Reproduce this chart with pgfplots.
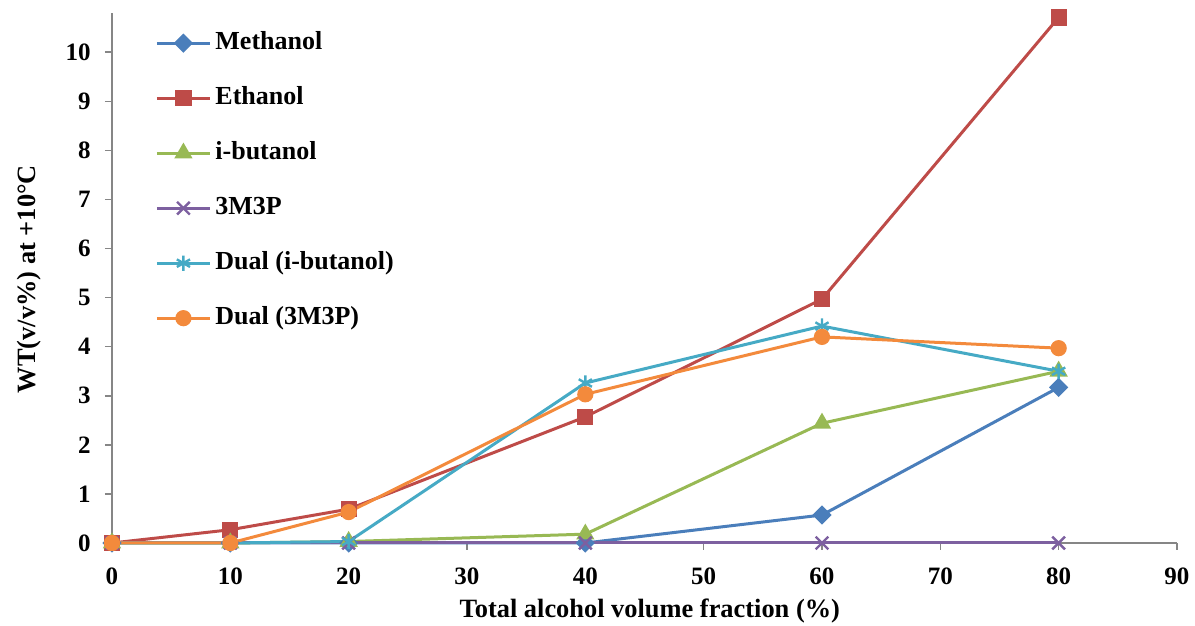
\documentclass[border=0pt]{standalone}
\usepackage{fontspec}
\setmainfont{Liberation Serif}
\usepackage{pgfplots}
\pgfplotsset{compat=1.18}

\definecolor{cMeth}{HTML}{4A7EBB}
\definecolor{cEth}{HTML}{BE4B48}
\definecolor{cIbu}{HTML}{98B954}
\definecolor{cMMP}{HTML}{7D60A0}
\definecolor{cDi}{HTML}{46AAC5}
\definecolor{cD3}{HTML}{F38A3C}
\definecolor{axgray}{HTML}{868686}

\begin{document}
\begin{tikzpicture}
\begin{axis}[
  scale only axis,
  width=532.5pt, height=265pt,
  xmin=0, xmax=90, ymin=0, ymax=10.8,
  axis x line=bottom, axis y line=left,
  axis line style={draw=axgray, line width=0.8pt, -},
  xtick={0,10,...,90}, ytick={0,1,...,10},
  tick style={draw=axgray, line width=0.8pt},
  tick align=outside,
  major tick length=3.5pt,
  /pgf/number format/assume math mode=true,
  ticklabel style={font=\fontsize{12.5}{14}\selectfont\bfseries},
  xticklabel style={yshift=-5.5pt},
  yticklabel style={xshift=-3.7pt},
  clip=false,
  xlabel={Total alcohol volume fraction (\%)},
  ylabel={WT(v/v\%) at +10°C},
  label style={font=\fontsize{13.2}{15}\selectfont\bfseries},
  xlabel style={at={(axis description cs:0.505,-0.128)}, anchor=center},
  ylabel style={at={(axis description cs:-0.0775,0.498)}, anchor=center},
  legend style={draw=none, fill=none, at={(axis description cs:0.0404,0.974)}, anchor=north west,
    font=\fontsize{13}{15}\selectfont\bfseries, row sep=11.5pt, inner sep=0pt,
    nodes={text height=9pt, text depth=3pt}},
  legend cell align=left,
  legend image code/.code={
    \draw[#1] (0pt,0pt) -- (26.5pt,0pt);
    \draw[#1, only marks] plot coordinates {(13.25pt,0pt)};
  },
  every axis plot/.append style={line width=1.5pt, mark options={solid}},
]
\addplot[color=cMeth, mark=square*, mark size=2.65pt, mark options={rotate=45}] coordinates {
  (0,0) (10,0) (20,0) (40,0) (60,0.57) (80,3.17)};
\addlegendentry{Methanol}
\addplot[color=cEth, mark=square*, mark size=3.3pt] coordinates {
  (0,0) (10,0.27) (20,0.69) (40,2.57) (60,4.97) (80,10.71)};
\addlegendentry{Ethanol}
\addplot[color=cIbu, mark=triangle*, mark size=3.8pt] coordinates {
  (0,0) (10,0) (20,0.03) (40,0.18) (60,2.44) (80,3.50)};
\addlegendentry{i-butanol}
\addplot[color=cMMP, mark=x, mark size=4.5pt, mark options={line width=1.2pt}] coordinates {
  (0,0) (10,0) (20,0) (40,0) (60,0) (80,0)};
\addlegendentry{3M3P}
\addplot[color=cDi, mark=asterisk, mark size=3.8pt, mark options={line width=1.2pt}] coordinates {
  (0,0) (10,0) (20,0.03) (40,3.26) (60,4.42) (80,3.50)};
\addlegendentry{Dual (i-butanol)}
\addplot[color=cD3, mark=*, mark size=3.3pt] coordinates {
  (0,0) (10,0) (20,0.63) (40,3.03) (60,4.20) (80,3.97)};
\addlegendentry{Dual (3M3P)}
\end{axis}
\pgfresetboundingbox
\useasboundingbox (-56pt,-41.5pt) rectangle (541.5pt,271.5pt);
\end{tikzpicture}
\end{document}
